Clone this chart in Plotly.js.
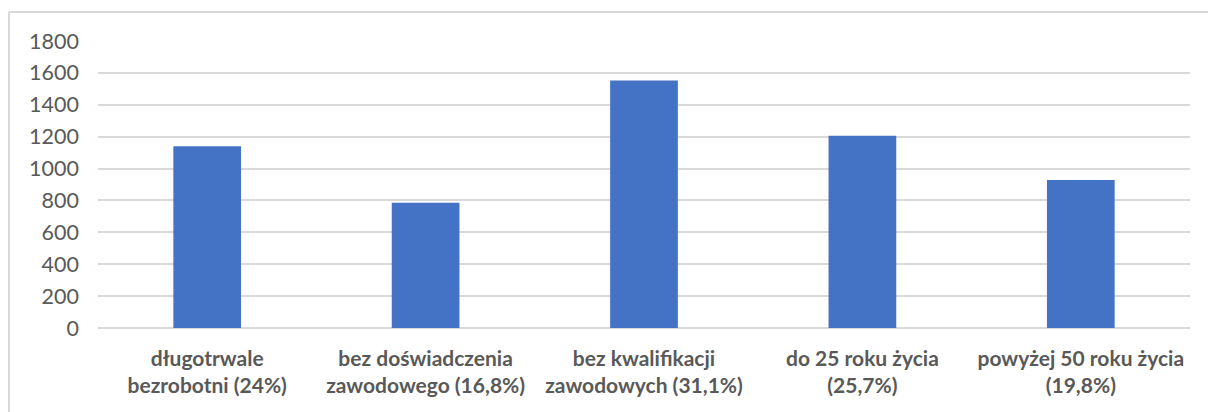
<!DOCTYPE html>
<html>
<head>
<meta charset="utf-8">
<script src="https://cdn.plot.ly/plotly-3.0.1.min.js"></script>
<style>
html,body{margin:0;padding:0;background:#fff;}
#chart{width:1208px;height:412px;}
</style>
</head>
<body>
<div id="chart"></div>
<script>
const categories = [
  "długotrwale<br>bezrobotni (24%)",
  "bez doświadczenia<br>zawodowego (16,8%)",
  "bez kwalifikacji<br>zawodowych (31,1%)",
  "do 25 roku życia<br>(25,7%)",
  "powyżej 50 roku życia<br>(19,8%)"
];
const values = [1140, 785, 1553, 1206, 928];
const yTicks = [0, 200, 400, 600, 800, 1000, 1200, 1400, 1600, 1800];

const W = 1208, H = 412;
const mL = 98, mR = 18, mT = 41, mB = 84;
const pw = W - mL - mR, ph = H - mT - mB;
const px = x => (x - mL) / pw;
const py = y => (H - mB - y) / ph;

const trace = {
  type: 'bar',
  x: categories,
  y: values,
  marker: {color: '#4472c4'},
  hoverinfo: 'skip'
};

const layout = {
  width: W, height: H,
  margin: {l: mL, r: mR, t: mT, b: mB},
  paper_bgcolor: '#fff',
  plot_bgcolor: '#fff',
  showlegend: false,
  bargap: 0.69,
  font: {family: 'Lato, "Open Sans", sans-serif', color: '#595959'},
  xaxis: {
    type: 'category',
    showgrid: false,
    showline: false,
    zeroline: false,
    ticks: '',
    tickfont: {size: 21, family: 'Lato, sans-serif', color: '#595959', weight: 'bold'},
    ticklabelstandoff: 16,
    fixedrange: true
  },
  yaxis: {
    range: [0, 1800],
    tickvals: yTicks,
    ticktext: yTicks.map(String),
    showgrid: true,
    gridcolor: '#d9d9d9',
    gridwidth: 2,
    zeroline: true,
    zerolinecolor: '#d9d9d9',
    zerolinewidth: 2,
    showline: false,
    ticks: '',
    ticklabelstandoff: 18,
    tickfont: {size: 21.5, family: 'Lato, sans-serif', color: '#595959'},
    fixedrange: true
  },
  shapes: [
    {type: 'line', xref: 'paper', yref: 'paper', x0: px(9), x1: px(1220), y0: py(12), y1: py(12),
     line: {color: '#d9d9d9', width: 2}},
    {type: 'line', xref: 'paper', yref: 'paper', x0: px(9), x1: px(9), y0: py(12), y1: py(420),
     line: {color: '#d9d9d9', width: 2}}
  ]
};

Plotly.newPlot('chart', [trace], layout, {displayModeBar: false, staticPlot: true});
</script>
</body>
</html>
